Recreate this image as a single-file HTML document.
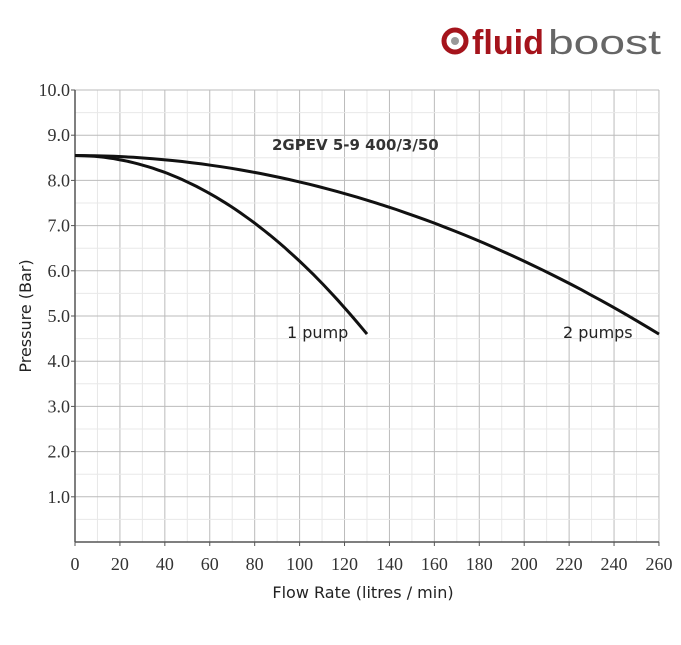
<!DOCTYPE html>
<html><head><meta charset="utf-8"><style>
body{margin:0;background:#fff;width:681px;height:640px;overflow:hidden}
.sans{font-family:"DejaVu Sans","Liberation Sans",sans-serif}
.serif{font-family:"Liberation Serif",serif}
.lib{font-family:"Liberation Sans",sans-serif}
</style></head><body>
<svg id="s" width="681" height="640" xmlns="http://www.w3.org/2000/svg">
<g id="grid"></g>
<g id="ticks" class="serif" font-size="18" fill="#333"></g>
<text x="472" y="54" class="lib" font-size="34" font-weight="bold" fill="#a5141c" textLength="72" lengthAdjust="spacingAndGlyphs">fluid</text>
<text x="548" y="54" class="lib" font-size="34" fill="#666" textLength="113" lengthAdjust="spacingAndGlyphs">boost</text>
<circle cx="455" cy="41" r="11" fill="none" stroke="#a5141c" stroke-width="5"/>
<circle cx="455" cy="41" r="4" fill="#999"/>
<text x="272" y="150" class="sans" font-size="15" font-weight="bold" fill="#333">2GPEV 5-9 400/3/50</text>
<text x="287" y="338" class="sans" font-size="16" fill="#222">1 pump</text>
<text x="563" y="338" class="sans" font-size="16" fill="#222">2 pumps</text>
<text x="363" y="598" class="sans" font-size="16" fill="#222" text-anchor="middle">Flow Rate (litres / min)</text>
<text transform="translate(31,316) rotate(-90)" class="sans" font-size="16" fill="#222" text-anchor="middle">Pressure (Bar)</text>
<path id="c1" fill="none" stroke="#111" stroke-width="3"/>
<path id="c2" fill="none" stroke="#111" stroke-width="3"/>
</svg>
<script>
var NS="http://www.w3.org/2000/svg";
function px(q){return 75+q*2.246}function py(p){return 542-p*45.2}
var g=document.getElementById('grid'),t=document.getElementById('ticks');
function ln(x1,y1,x2,y2,c,w){var l=document.createElementNS(NS,'line');l.setAttribute('x1',x1);l.setAttribute('y1',y1);l.setAttribute('x2',x2);l.setAttribute('y2',y2);l.setAttribute('stroke',c);l.setAttribute('stroke-width',w||1);g.appendChild(l)}
function tx(x,y,s,a){var e=document.createElementNS(NS,'text');e.setAttribute('x',x);e.setAttribute('y',y);e.setAttribute('text-anchor',a);e.textContent=s;t.appendChild(e)}
for(var q=10;q<=260;q+=10){ln(px(q),90,px(q),542,q%20?'#e8e8e8':'#bbb')}
for(var p=0.5;p<=10;p+=0.5){ln(75,py(p),659,py(p),(p*2)%2?'#e8e8e8':'#bbb')}
ln(75,90,75,542,'#555',1.5);ln(75,542,659,542,'#555',1.5);
for(var q=0;q<=260;q+=20){ln(px(q),542,px(q),546,'#555');tx(px(q),570,q,'middle')}
for(var p=1;p<=10;p++){ln(71,py(p),75,py(p),'#555');tx(70,py(p)+6,p.toFixed(1),'end')}
function curve(qmax,id){var k=3.95/(qmax*qmax),d='';for(var i=0;i<=60;i++){var q=qmax*i/60;d+=(i?'L':'M')+px(q).toFixed(1)+','+py(8.55-k*q*q).toFixed(1)}document.getElementById(id).setAttribute('d',d)}
curve(130,'c1');curve(260,'c2');
</script>
</body></html>
